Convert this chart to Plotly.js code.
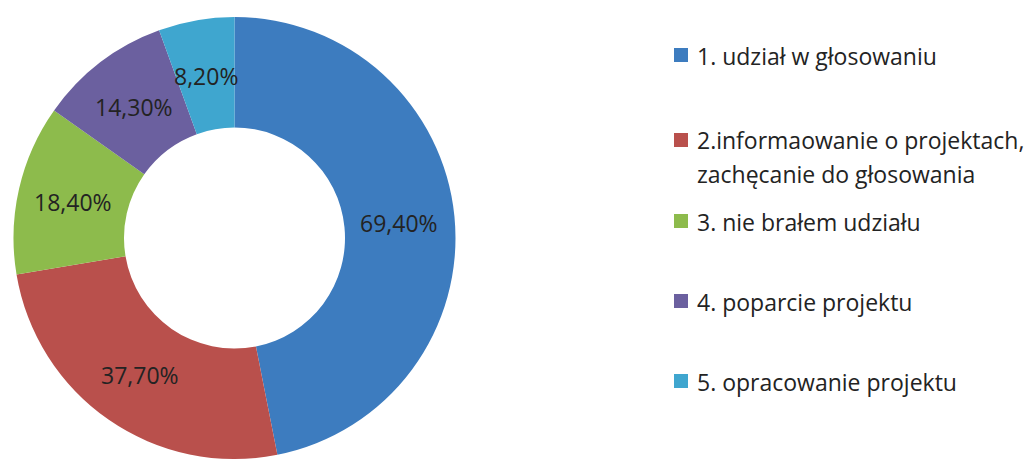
<!DOCTYPE html>
<html>
<head>
<meta charset="utf-8">
<script src="https://cdn.plot.ly/plotly-3.0.1.min.js"></script>
<style>
  html, body { margin: 0; padding: 0; background: #ffffff; overflow: hidden; }
  #chart { width: 1031px; height: 459px; }
</style>
</head>
<body>
<div id="chart"></div>
<script>
// ---- data ----
const categories = [
  "1. udział w głosowaniu",
  "2.informaowanie o projektach,<br>zachęcanie do głosowania",
  "3. nie brałem udziału",
  "4. poparcie projektu",
  "5. opracowanie projektu"
];
const values = [69.4, 37.7, 18.4, 14.3, 8.2];

// ---- styles ----
const colors = ["#3d7cbf", "#b9504c", "#8dbb4c", "#6b609f", "#3fa6cf"];
const W = 1031, H = 459;
const FONT = "'Open Sans', 'Noto Sans', sans-serif";
const TEXT_COLOR = '#232323';

const labelText = values.map(v => v.toFixed(2).replace('.', ',') + '%');

// pie geometry (paper domain)
const domX = [12 / W, 457 / W], domY = [0, 442 / H];
const HOLE = 0.5;

// legend layout (pixel rows: first line centre of each item, line spacing)
const legendRowY = [54.5, 139.5, 220.5, 300.5, 380.5];
const legendLineGap = 33;
const legendSquareX = 674, legendSquareSize = 14, legendTextX = 695;

const px = x => x / W;
const py = y => 1 - y / H;

const annotations = [];
const shapes = [];
categories.forEach((cat, i) => {
  const lines = cat.split('<br>');
  lines.forEach((ln, j) => {
    annotations.push({
      xref: 'paper', yref: 'paper',
      x: px(legendTextX), y: py(legendRowY[i] + j * legendLineGap + 1),
      xanchor: 'left', yanchor: 'middle',
      text: ln, showarrow: false,
      font: { family: FONT, size: 23, color: TEXT_COLOR }
    });
  });
  const cy = legendRowY[i] + 0.5;
  shapes.push({
    type: 'rect', xref: 'paper', yref: 'paper',
    x0: px(legendSquareX), x1: px(legendSquareX + legendSquareSize),
    y0: py(cy + legendSquareSize / 2), y1: py(cy - legendSquareSize / 2),
    fillcolor: colors[i], line: { width: 0 }
  });
});

// slice labels: placed at each slice's mid-angle, mid-ring radius (derived from values)
const total = values.reduce((a, b) => a + b, 0);
const cxPx = (domX[0] + domX[1]) / 2 * W;
const cyPx = (1 - (domY[0] + domY[1]) / 2) * H;
const rPx = Math.min((domX[1] - domX[0]) * W, (domY[1] - domY[0]) * H) / 2;
const rMid = rPx * (1 + HOLE) / 2;
let cum = 0;
values.forEach((v, i) => {
  const mid = (cum + v / 2) / total * 2 * Math.PI;
  cum += v;
  const lx = cxPx + rMid * Math.sin(mid);
  const ly = cyPx - rMid * Math.cos(mid);
  annotations.push({
    xref: 'paper', yref: 'paper',
    x: px(lx), y: py(ly + 1),
    xanchor: 'center', yanchor: 'middle',
    text: labelText[i], showarrow: false,
    font: { family: FONT, size: 23, color: TEXT_COLOR }
  });
});

const trace = {
  type: 'pie',
  values: values,
  labels: categories,
  textinfo: 'none',
  hole: HOLE,
  sort: false,
  direction: 'clockwise',
  rotation: 0,
  marker: { colors: colors, line: { width: 0 } },
  domain: { x: domX, y: domY },
  showlegend: false,
  hoverinfo: 'none'
};

const layout = {
  width: W, height: H,
  margin: { l: 0, r: 0, t: 0, b: 0 },
  paper_bgcolor: '#ffffff',
  plot_bgcolor: '#ffffff',
  showlegend: false,
  annotations: annotations,
  shapes: shapes
};

Plotly.newPlot('chart', [trace], layout, { displayModeBar: false, staticPlot: true });
</script>
</body>
</html>
